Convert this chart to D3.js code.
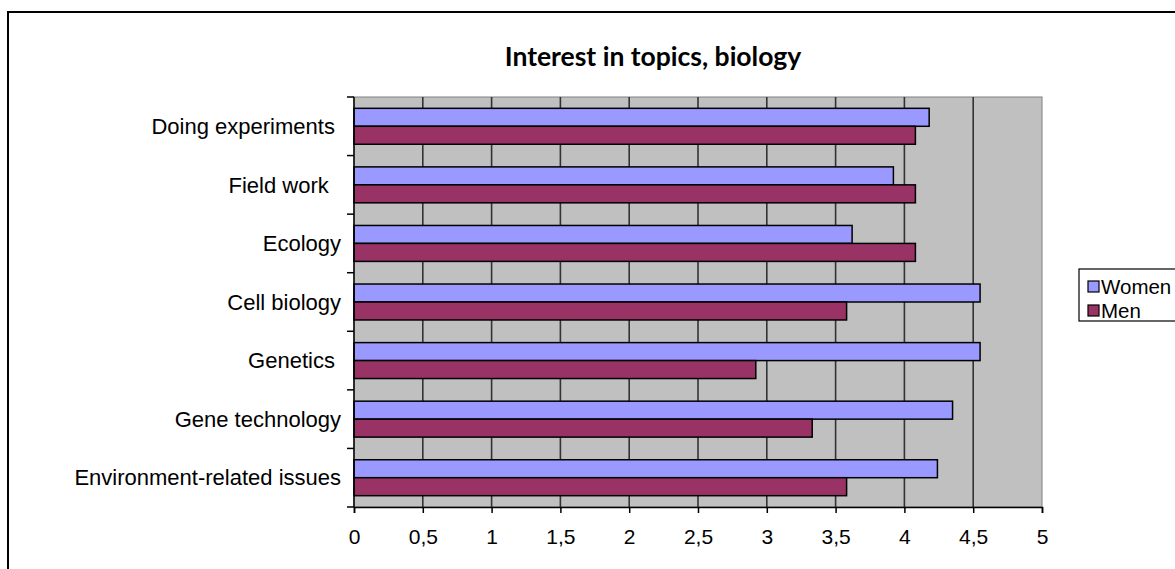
<!DOCTYPE html>
<html>
<head>
<meta charset="utf-8">
<script src="https://cdn.jsdelivr.net/npm/d3@7/dist/d3.min.js"></script>
<style>
  html, body { margin: 0; padding: 0; background: #fff; }
  svg text { white-space: pre; }
</style>
</head>
<body>
<svg id="chart" width="1175" height="569"></svg>
<script>
const categories = ["Doing experiments ", "Field work  ", "Ecology", "Cell biology", "Genetics ", "Gene technology", "Environment-related issues"];
const seriesNames = ["Women", "Men"];
const women = [4.18, 3.92, 3.62, 4.55, 4.55, 4.35, 4.24];
const men = [4.08, 4.08, 4.08, 3.58, 2.92, 3.33, 3.58];
const xTicks = [0, 0.5, 1, 1.5, 2, 2.5, 3, 3.5, 4, 4.5, 5];
const title = "Interest in topics, biology";
const colors = ["#9999FF", "#993366"];

const svg = d3.select("#chart");
const pLeft = 354, pRight = 1042, pTop = 97, pBottom = 507;
const fontFam = "'Liberation Sans', Arial, sans-serif";

// outer chart border
svg.append("rect").attr("x", 8).attr("y", 12).attr("width", 1300).attr("height", 700)
  .attr("fill", "#fff").attr("stroke", "#000").attr("stroke-width", 2);

const x = d3.scaleLinear().domain([0, 5]).range([pLeft, pRight]);
const y = d3.scaleBand().domain(categories).range([pTop, pBottom]).padding(0);
const ys = d3.scaleBand().domain(seriesNames).range([0, y.bandwidth()]).paddingInner(0).paddingOuter(0.63);

// plot background
svg.append("rect").attr("x", pLeft).attr("y", pTop).attr("width", pRight - pLeft).attr("height", pBottom - pTop)
  .attr("fill", "#C0C0C0").attr("stroke", "#808080").attr("stroke-width", 1);

// gridlines
svg.append("g").selectAll("line").data(xTicks.filter(d => d > 0 && d < 5)).join("line")
  .attr("x1", d => x(d)).attr("x2", d => x(d)).attr("y1", pTop).attr("y2", pBottom)
  .attr("stroke", "#333").attr("stroke-width", 1.6);

// bars
const data = categories.map((c, i) => ({ c, vals: [women[i], men[i]] }));
const groups = svg.append("g").selectAll("g").data(data).join("g")
  .attr("transform", d => `translate(0,${y(d.c)})`);
groups.selectAll("rect").data(d => d.vals.map((v, j) => ({ v, s: seriesNames[j], j }))).join("rect")
  .attr("x", x(0)).attr("y", d => ys(d.s)).attr("width", d => x(d.v) - x(0)).attr("height", ys.bandwidth())
  .attr("fill", d => colors[d.j]).attr("stroke", "#000").attr("stroke-width", 1.5);

// x axis
const xAxis = d3.axisBottom(x).tickValues(xTicks).tickFormat(d => String(d).replace(".", ",")).tickSize(6).tickPadding(16);
const gx = svg.append("g").attr("transform", `translate(0,${pBottom})`).call(xAxis);
gx.select(".domain").attr("stroke", "#000").attr("stroke-width", 1.5);
gx.selectAll(".tick line").attr("stroke", "#000").attr("stroke-width", 1.5);
gx.selectAll("text").attr("font-family", fontFam).attr("font-size", 21).attr("fill", "#000");

// y axis: ticks at category boundaries
const boundaries = d3.range(categories.length + 1).map(i => pTop + i * y.step());
svg.append("line").attr("x1", pLeft).attr("x2", pLeft).attr("y1", pTop).attr("y2", pBottom)
  .attr("stroke", "#000").attr("stroke-width", 1.5);
svg.append("g").selectAll("line").data(boundaries).join("line")
  .attr("x1", pLeft - 7).attr("x2", pLeft).attr("y1", d => d).attr("y2", d => d)
  .attr("stroke", "#000").attr("stroke-width", 1.5);
svg.append("g").selectAll("text").data(categories).join("text")
  .attr("x", 341).attr("y", d => y(d) + y.bandwidth() / 2).attr("dy", "0.35em")
  .attr("text-anchor", "end").attr("font-family", fontFam)
  .attr("font-size", 22).attr("fill", "#000").text(d => d);

// title
svg.append("text").attr("x", 653).attr("y", 66).attr("text-anchor", "middle")
  .attr("font-family", "Lato, 'Open Sans', sans-serif").attr("font-weight", "bold")
  .attr("font-size", 26.5).attr("fill", "#000").text(title);

// legend
const lg = svg.append("g");
lg.append("rect").attr("x", 1079).attr("y", 269).attr("width", 200).attr("height", 52)
  .attr("fill", "#fff").attr("stroke", "#000").attr("stroke-width", 1.2);
seriesNames.forEach((s, i) => {
  const cy = 287 + i * 24;
  lg.append("rect").attr("x", 1088).attr("y", cy - 6).attr("width", 11).attr("height", 11)
    .attr("fill", colors[i]).attr("stroke", "#000").attr("stroke-width", 1.2);
  lg.append("text").attr("x", 1101).attr("y", cy).attr("dy", "0.35em")
    .attr("font-family", fontFam).attr("font-size", 20.5).attr("fill", "#000").text(s);
});
</script>
</body>
</html>
